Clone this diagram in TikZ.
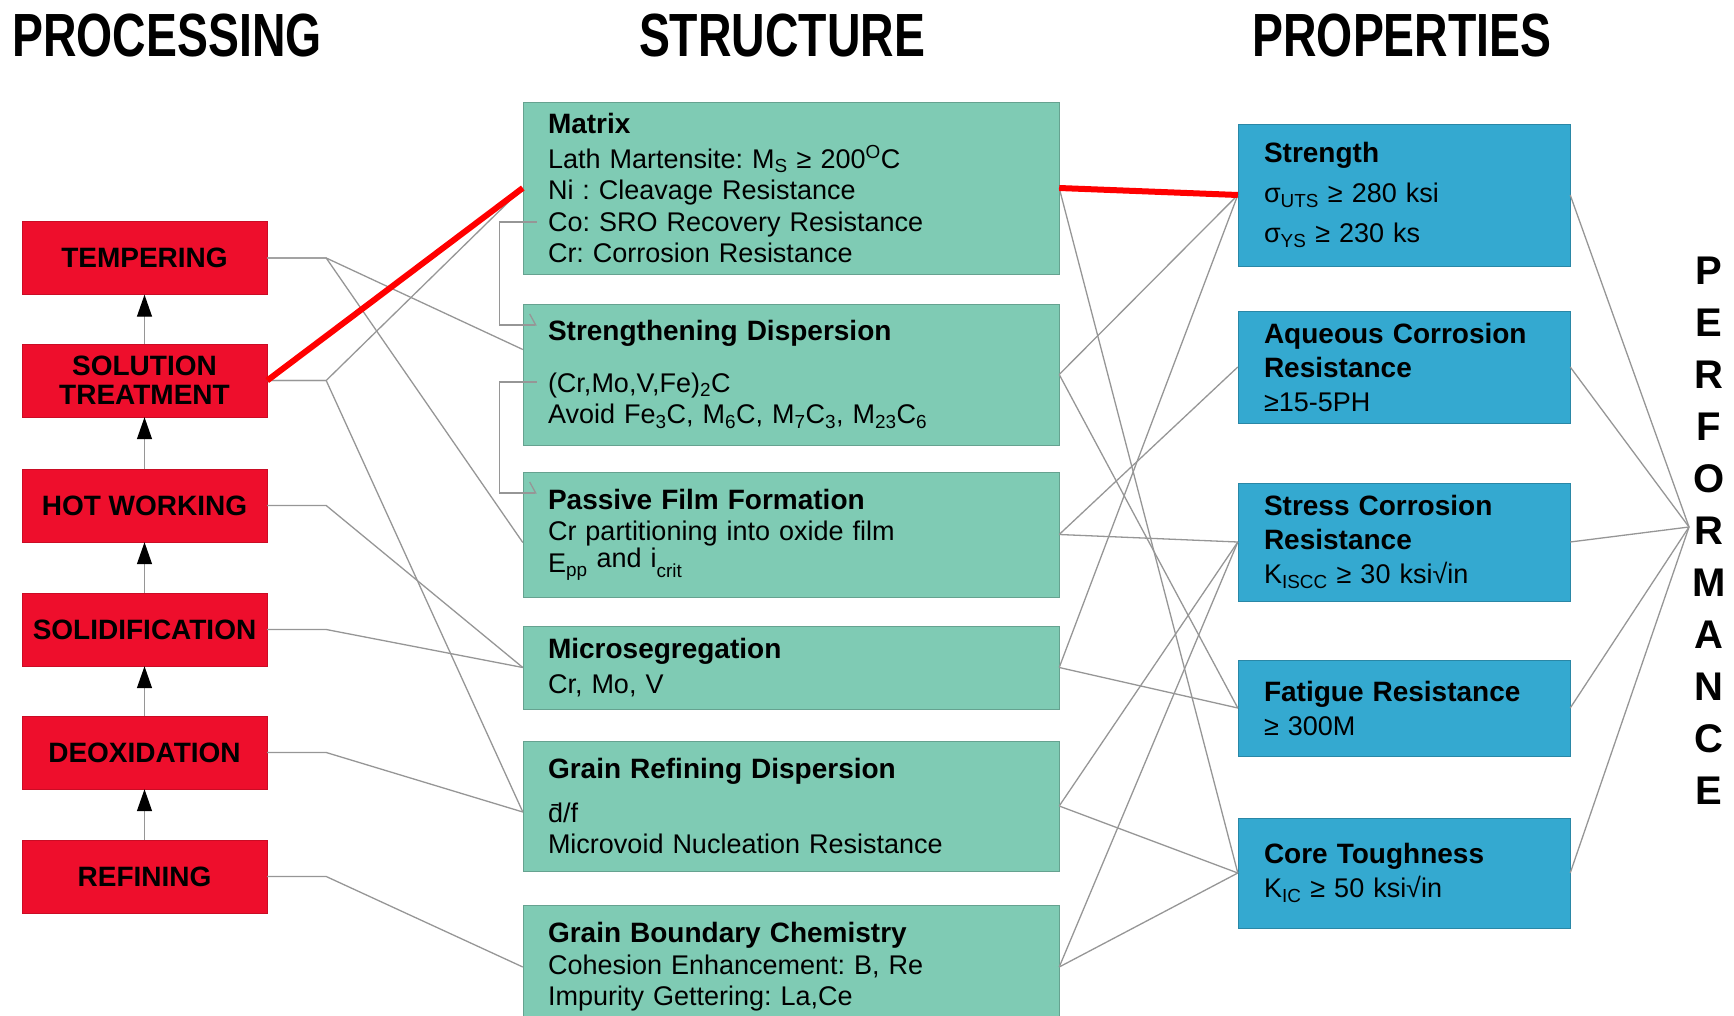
\documentclass[tikz,border=0pt]{standalone}
\usepackage{fontspec}
\setmainfont{Liberation Sans}
\usepackage{xcolor}
\usepackage{graphicx}
\usepackage{tikz}
\usetikzlibrary{arrows.meta}

\definecolor{procred}{RGB}{238,14,44}
\definecolor{structgreen}{RGB}{127,203,180}
\definecolor{propblue}{RGB}{52,169,208}
\definecolor{linkgray}{RGB}{150,150,150}

\newcommand{\boxtitle}[1]{{\bfseries\fontsize{28}{31.5}\selectfont #1}}
\frenchspacing

\begin{document}
\begin{tikzpicture}[x=1pt, y=-1pt,
    head/.style={font=\bfseries\fontsize{61}{61}\selectfont},
    proc/.style={draw=procred!85!black, fill=procred, minimum width=245pt, minimum height=73pt, align=center, font=\bfseries\fontsize{28}{29}\selectfont},
    struct/.style={draw=structgreen!80!black, fill=structgreen, minimum width=536pt, text width=486pt, inner xsep=25pt, align=left, font=\fontsize{27}{31.5}\selectfont},
    prop/.style={draw=propblue!80!black, fill=propblue, minimum width=332pt, text width=280pt, inner xsep=26pt, align=left, font=\fontsize{27}{34}\selectfont},
    link/.style={draw=linkgray, line width=1.3pt},
    redlink/.style={draw=red, line width=6pt},
    uparrow/.style={draw=linkgray, line width=1.3pt, -{Triangle[length=22pt, width=15pt, color=black]}},
    bracket/.style={draw=linkgray, line width=1.3pt, -{Straight Barb[left, length=6pt, width=22pt]}}
]
    \useasboundingbox (0,0) rectangle (1734,1016);

    \node[head] (PRC) at (167,35.5) {\scalebox{0.76}[1]{PROCESSING}};
    \node[head] (STC) at (782,35.5) {\scalebox{0.76}[1]{STRUCTURE}};
    \node[head] (PRP) at (1402,35.5) {\scalebox{0.76}[1]{PROPERTIES}};

    \node[proc] (TEM) at (144.5,258) {TEMPERING};
    \node[proc] (SOL) at (144.5,380.5) {SOLUTION\\TREATMENT};
    \node[proc] (HOT) at (144.5,505.5) {HOT WORKING};
    \node[proc] (SLD) at (144.5,629.5) {SOLIDIFICATION};
    \node[proc] (DEO) at (144.5,752.5) {DEOXIDATION};
    \node[proc] (REF) at (144.5,876.5) {REFINING};

    \draw[uparrow] (REF) -- (DEO);
    \draw[uparrow] (DEO) -- (SLD);
    \draw[uparrow] (SLD) -- (HOT);
    \draw[uparrow] (HOT) -- (SOL);
    \draw[uparrow] (SOL) -- (TEM);

    \node[struct, minimum height=172pt] (MAT) at (791,188) {\boxtitle{Matrix}\\[3pt]Lath Martensite: M\textsubscript{S} ≥ 200\textsuperscript{O}C\\Ni : Cleavage Resistance\\Co: SRO Recovery Resistance\\Cr: Corrosion Resistance};
    \node[struct, minimum height=141pt] (SDP) at (791,374.5) {\boxtitle{Strengthening Dispersion}\\[20pt](Cr,Mo,V,Fe)\textsubscript{2}C\\Avoid Fe\textsubscript{3}C, M\textsubscript{6}C, M\textsubscript{7}C\textsubscript{3}, M\textsubscript{23}C\textsubscript{6}};
    \node[struct, minimum height=125pt] (PFF) at (791,534.5) {\boxtitle{Passive Film Formation}\\Cr partitioning into oxide film\\E\textsubscript{pp}\raisebox{5pt}{ and i}\textsubscript{crit}};
    \node[struct, minimum height=83pt] (MSG) at (791,667.5) {\boxtitle{Microsegregation}\\[4pt]Cr, Mo, V};
    \node[struct, minimum height=130pt] (GRD) at (791,806) {\boxtitle{Grain Refining Dispersion}\\[12pt]\=d/f\\Microvoid Nucleation Resistance};
    \node[struct, minimum height=124pt] (GBC) at (791,967) {\boxtitle{Grain Boundary Chemistry}\\Cohesion Enhancement: B, Re\\Impurity Gettering: La,Ce};

    \node[prop, minimum height=142pt] (STR) at (1404,195) {\boxtitle{Strength}\\[6pt]σ\textsubscript{UTS} ≥ 280 ksi\\[6pt]σ\textsubscript{YS} ≥ 230 ks};
    \node[prop, minimum height=112pt] (ACR) at (1404,367) {\boxtitle{Aqueous Corrosion}\\\boxtitle{Resistance}\\≥15-5PH};
    \node[prop, minimum height=118pt] (SCR) at (1404,542) {\boxtitle{Stress Corrosion}\\\boxtitle{Resistance}\\K\textsubscript{ISCC} ≥ 30 ksi√in};
    \node[prop, minimum height=96pt] (FAT) at (1404,708) {\boxtitle{Fatigue Resistance}\\≥ 300M};
    \node[prop, minimum height=110pt] (CTG) at (1404,873) {\boxtitle{Core Toughness}\\K\textsubscript{IC} ≥ 50 ksi√in};

    \node[font=\bfseries\fontsize{40}{52}\selectfont, align=center] (PERF) at (1709,531) {P\\E\\R\\F\\O\\R\\M\\A\\N\\C\\E};
    \coordinate (PF) at (1689,527);

    \draw[link] (TEM.east) -- ++(59,0) -- ([yshift=25pt]SDP.west);
    \draw[link] (TEM.east) -- ++(59,0) -- ([yshift=-8pt]PFF.west);
    \draw[link] (SOL.east) -- ++(59,0) -- (MAT.west);
    \draw[link] (SOL.east) -- ++(59,0) -- ([yshift=-6pt]GRD.west);
    \draw[link] (HOT.east) -- ++(59,0) -- (MSG.west);
    \draw[link] (SLD.east) -- ++(59,0) -- (MSG.west);
    \draw[link] (DEO.east) -- ++(59,0) -- ([yshift=-6pt]GRD.west);
    \draw[link] (REF.east) -- ++(59,0) -- (GBC.west);

    \draw[bracket] ([xshift=14pt,yshift=-34pt]MAT.west) -- ++(-37,0) |- ([xshift=14pt,yshift=49.5pt]SDP.west);
    \draw[bracket] ([xshift=14pt,yshift=-7.5pt]SDP.west) -- ++(-37,0) |- ([xshift=14pt,yshift=41.5pt]PFF.west);

    \draw[link] (MAT.east) -- (CTG.west);
    \draw[link] (SDP.east) -- (STR.west);
    \draw[link] (SDP.east) -- (FAT.west);
    \draw[link] (PFF.east) -- (ACR.west);
    \draw[link] (PFF.east) -- (SCR.west);
    \draw[link] (MSG.east) -- (STR.west);
    \draw[link] (MSG.east) -- (FAT.west);
    \draw[link] (GRD.east) -- (SCR.west);
    \draw[link] (GRD.east) -- (CTG.west);
    \draw[link] (GBC.east) -- (SCR.west);
    \draw[link] (GBC.east) -- (CTG.west);

    \draw[link] (STR.east) -- (PF);
    \draw[link] (ACR.east) -- (PF);
    \draw[link] (SCR.east) -- (PF);
    \draw[link] (FAT.east) -- (PF);
    \draw[link] (CTG.east) -- (PF);

    \draw[redlink] (SOL.east) -- (MAT.west);
    \draw[redlink] (MAT.east) -- (STR.west);

\end{tikzpicture}
\end{document}
